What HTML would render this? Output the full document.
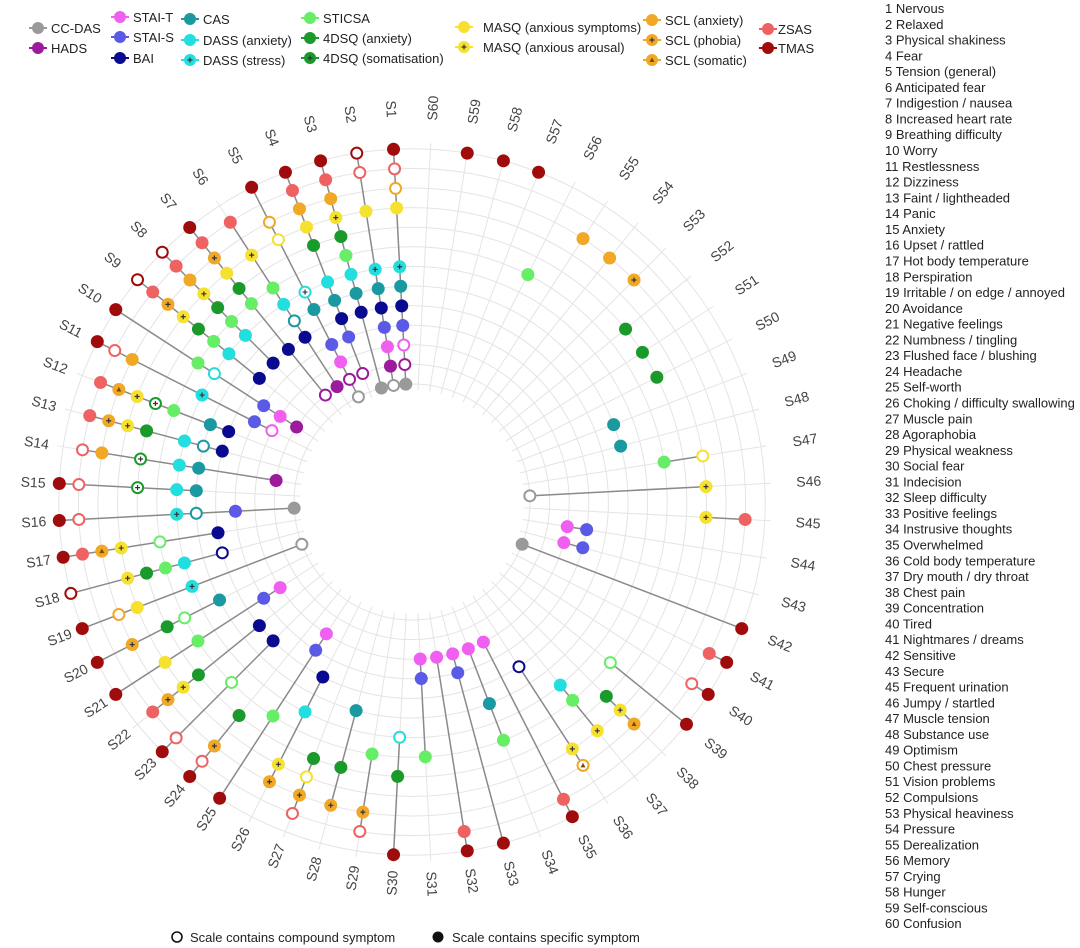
<!DOCTYPE html>
<html><head><meta charset="utf-8">
<style>
html,body{margin:0;padding:0;background:#fff;}
svg{display:block;font-family:"Liberation Sans",Arial,sans-serif;}
</style></head>
<body>
<svg id="chart" width="1080" height="948" viewBox="0 0 1080 948" xmlns="http://www.w3.org/2000/svg">
<g id="grid"></g>
<g id="spokes"></g>
<g id="labels"></g>
<g id="legend"></g>
<g id="symlist"></g>
<g>
  <circle cx="177" cy="937" r="5" fill="#fff" stroke="#111" stroke-width="1.6"/>
  <text x="190" y="942" font-size="13" fill="#222">Scale contains compound symptom</text>
  <circle cx="438" cy="937" r="5.5" fill="#111"/>
  <text x="452" y="942" font-size="13" fill="#222">Scale contains specific symptom</text>
</g>
</svg>
<script>
// ---- data ----
const spokeLabels = Array.from({length:60},(_,i)=>'S'+(i+1));
const spokeScales = [
"TM ZSo SAo MS DS CA BA SS STo HAo CC",
"TMo ZSo MS DS CA BA SS ST HA CCo",
"TM ZS SA MA FA SI DA CA BA CC",
"TM ZS SA MS FA DA CA BA SS HAo",
"TM SAo MSo DSo CA SS ST HAo CCo",
"ZS MA SI DA CAo BA HA",
"TM ZS SP MS FA SI BA HAo",
"TMo ZS SA MA FA SI DA BA",
"TMo ZS SP MA FA SI DA BA",
"TM SI DAo SS ST HA",
"TM ZSo SA DS SS STo",
"ZS SO MA FSo SI CA BA",
"ZS SP MA FA DA CAo BA",
"ZSo SA FSo DA CA HA",
"TM ZSo FSo DA CA",
"TM ZSo DS CAo SS CC",
"TM ZS SO MA SIo BA",
"TMo MA FA SI DA BAo",
"TM SAo MS DS CCo",
"TM SP FA SIo CA",
"TM MS SI SS ST",
"ZS SP MA FA BA",
"TM ZSo SIo BA",
"TM ZSo SP FA",
"TM SI SS ST",
"SP MA DA BA",
"ZSo SP MSo FA",
"SP FA CA",
"ZSo SP SI",
"TM FA DAo",
"SI SS ST",
"TM ZS ST",
"TM SS ST",
"ST CA SI",
"TM ZS ST",
"SOo MA BAo",
"MA SI DA",
"SO MA FA",
"TM SIo",
"TM ZSo",
"TM ZS",
"TM CC",
"SS ST",
"SS ST",
"ZS MA",
"MA CCo",
"MSo SI",
"CA",
"CA",
"FA",
"FA",
"FA",
"SP",
"SA",
"SA",
"SI",
"TM",
"TM",
"TM",
""
];
const symptomNumbers = [1,2,3,4,5,6,7,8,9,10,11,12,13,14,15,16,17,18,19,20,21,22,23,24,25,26,27,28,29,30,31,32,33,34,35,36,37,38,39,40,41,42,43,45,46,47,48,49,50,51,52,53,54,55,56,57,58,59,60];
const symptomNames = ["Nervous","Relaxed","Physical shakiness","Fear","Tension (general)","Anticipated fear","Indigestion / nausea","Increased heart rate","Breathing difficulty","Worry","Restlessness","Dizziness","Faint / lightheaded","Panic","Anxiety","Upset / rattled","Hot body temperature","Perspiration","Irritable / on edge / annoyed","Avoidance","Negative feelings","Numbness / tingling","Flushed face / blushing","Headache","Self-worth","Choking / difficulty swallowing","Muscle pain","Agoraphobia","Physical weakness","Social fear","Indecision","Sleep difficulty","Positive feelings","Instrusive thoughts","Overwhelmed","Cold body temperature","Dry mouth / dry throat","Chest pain","Concentration","Tired","Nightmares / dreams","Sensitive","Secure","Frequent urination","Jumpy / startled","Muscle tension","Substance use","Optimism","Chest pressure","Vision problems","Compulsions","Physical heaviness","Pressure","Derealization","Memory","Crying","Hunger","Self-conscious","Confusion"];
const scaleKeys = ["CC","HA","ST","SS","BA","CA","DA","DS","SI","FA","FS","MS","MA","SA","SP","SO","ZS","TM"];
const scaleNames = ["CC-DAS","HADS","STAI-T","STAI-S","BAI","CAS","DASS (anxiety)","DASS (stress)","STICSA","4DSQ (anxiety)","4DSQ (somatisation)","MASQ (anxious symptoms)","MASQ (anxious arousal)","SCL (anxiety)","SCL (phobia)","SCL (somatic)","ZSAS","TMAS"];
const scaleRing = [0,1,2,3,4,5,6,6,7,8,8,9,9,10,10,10,11,12];

// ---- style ----
const scaleColor = ["#9a9a9a","#9c1a9c","#f060f0","#5a5ae6","#0a0a90","#1a9aa0","#22dede","#22dede","#66ee66","#1a9a2a","#1a9a2a","#f6e030","#f6e030","#f0a826","#f0a826","#f0a826","#ee6262","#a00c0c"];
const scaleGlyph = ["","","","","","","","plus","","","plus","","plus","","plus","tri","",""];
const NS="http://www.w3.org/2000/svg";
const cx=412, cy=502, r0=118, dr=19.6;
function mk(tag,attrs,parent){const e=document.createElementNS(NS,tag);for(const k in attrs)e.setAttribute(k,attrs[k]);parent.appendChild(e);return e;}
function rScale(ring){return r0+ring*dr;}
function bearing(k){return -(k+0.5)*6;}
function pt(k,r){const b=bearing(k)*Math.PI/180;return [cx+r*Math.sin(b), cy-r*Math.cos(b)];}

const grid=document.getElementById('grid');
for(let i=0;i<=12;i++){
  const c=mk('circle',{cx:cx,cy:cy,r:rScale(i),fill:'none',stroke:'#e4e4e4','stroke-width':1},grid);
  
  
}
for(let k=0;k<60;k++){
  const a=pt(k,rScale(0)-6), b=pt(k,rScale(12)+6);
  const l=mk('line',{x1:a[0],y1:a[1],x2:b[0],y2:b[1],stroke:'#e4e4e4','stroke-width':1},grid);
  
  
}

function drawMarker(g,x,y,si,open,r){
  const col=scaleColor[si];
  const c=mk('circle',{cx:x,cy:y,r:r,fill:open?'#fff':col,stroke:col,'stroke-width':open?2:0},g);
  
  
  const gl=scaleGlyph[si];
  if(gl==='plus'){
    mk('path',{d:`M${x-2.5} ${y}H${x+2.5}M${x} ${y-2.5}V${y+2.5}`,stroke:'#333','stroke-width':1.2},g);
  } else if(gl==='tri'){
    mk('path',{d:`M${x-2.5} ${y+2}L${x+2.5} ${y+2}L${x} ${y-2.5}Z`,fill:'#7a4a00'},g);
  }
}

const sg=document.getElementById('spokes');
spokeScales.forEach((s,k)=>{
  const items=s.split(' ').filter(Boolean).map(t=>{const open=t.length>2&&t.endsWith('o');const key=t.slice(0,2);return {si:scaleKeys.indexOf(key),open};});
  if(!items.length)return;
  const g=mk('g',{},sg);
  
  
  const rings=items.map(it=>scaleRing[it.si]);
  const mn=Math.min(...rings), mx=Math.max(...rings);
  if(mx>mn){
    const a=pt(k,rScale(mn)), b=pt(k,rScale(mx));
    const l=mk('line',{x1:a[0],y1:a[1],x2:b[0],y2:b[1],stroke:'#8a8a8a','stroke-width':1.5},g);
    
    
  }
  items.forEach(it=>{const p=pt(k,rScale(scaleRing[it.si]));drawMarker(g,p[0],p[1],it.si,it.open,it.open?5.5:6.5);});
});

const lg=document.getElementById('labels');
spokeLabels.forEach((lab,k)=>{
  const br=bearing(k)*Math.PI/180;
  const rad=388+6*Math.cos(br)+9*Math.sin(br);
  const p=pt(k,rad);
  let b=((bearing(k)%360)+360)%360;
  let rot = k<30 ? b-270 : b-90;
  const t=mk('text',{x:p[0],y:p[1]+5,'text-anchor':'middle','font-size':14,fill:'#444',transform:`rotate(${rot} ${p[0]} ${p[1]})`},lg);
  t.textContent=lab;
  
  
});

const legPos=[[38,28],[38,48],[120,17],[120,37],[120,58],[190,19],[190,40],[190,60],[310,18],[310,38],[310,58],[464,27],[464,47],[652,20],[652,40],[652,60],[768,29],[768,48]];
const leg=document.getElementById('legend');
scaleNames.forEach((n,i)=>{
  const [x,y]=legPos[i];
  const g=mk('g',{},leg);
  
  
  mk('line',{x1:x-9,y1:y,x2:x+9,y2:y,stroke:scaleColor[i],'stroke-width':2},g);
  drawMarker(g,x,y,i,false,6);
  const t=mk('text',{x:x+(i>=11&&i<=12?19:i>=16?10:13),y:y+5,'font-size':13,fill:'#222'},g);
  t.textContent=n;
});

const sl=document.getElementById('symlist');
symptomNames.forEach((n,i)=>{
  const t=mk('text',{x:885,y:13+i*15.78,'font-size':13,fill:'#222'},sl);
  t.textContent=symptomNumbers[i]+' '+n;
  
  
});
</script>
</body></html>
